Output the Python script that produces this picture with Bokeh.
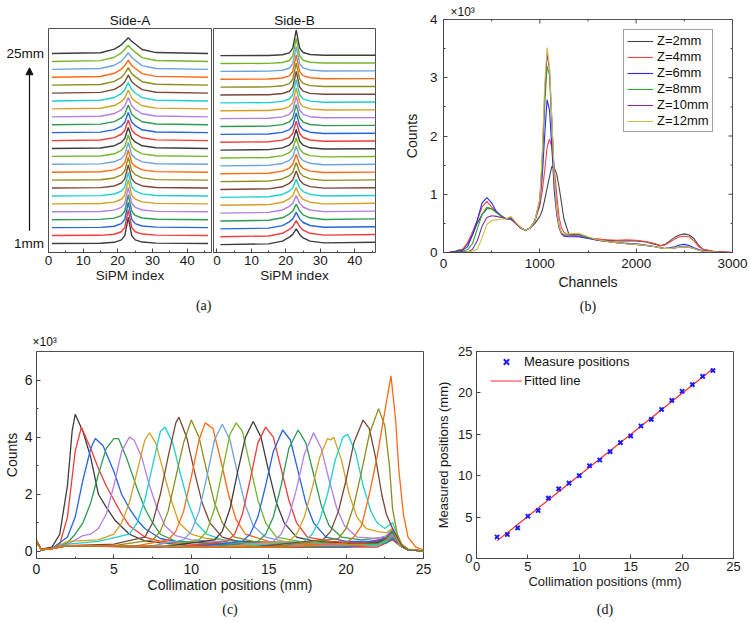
import numpy as np
from bokeh.plotting import figure
from bokeh.layouts import row, column
from bokeh.models import (Range1d, FixedTicker, Arrow, NormalHead, Title,
                          Legend, LegendItem)
from bokeh.core.properties import value
from bokeh.embed import file_html
from bokeh.resources import INLINE

SANS = "Liberation Sans"
SERIF = "Liberation Serif"

# ---------------- panel (a): light profiles along the SiPM array ----------------
SIPM_INDEX = [1, 15, 19, 21, 22, 23, 24, 25, 27, 31, 46]
SIPM_TICKS = [0, 10, 20, 30, 40]
SIPM_MINOR = [5, 15, 25, 35, 45]
DEPTH_TEXT = ["1mm", "25mm"]
# one row per depth, bottom (1 mm) to top (25 mm); values in units of the stacking step
SIDE_A = [
    [0, .03, .15, .45, 1.00, 3.30, 1.00, .45, .18, .05, 0],
    [0, .03, .17, .48, 1.02, 3.25, 1.02, .48, .19, .05, 0],
    [0, .04, .18, .50, 1.05, 3.19, 1.05, .51, .21, .06, 0],
    [0, .04, .20, .53, 1.07, 3.14, 1.07, .54, .22, .06, 0],
    [0, .04, .22, .56, 1.09, 3.08, 1.09, .57, .23, .06, 0],
    [0, .05, .23, .59, 1.12, 3.03, 1.11, .61, .25, .07, 0],
    [0, .05, .25, .61, 1.14, 2.98, 1.14, .64, .26, .07, 0],
    [0, .05, .27, .64, 1.16, 2.92, 1.16, .67, .27, .07, 0],
    [0, .05, .28, .67, 1.18, 2.87, 1.18, .70, .29, .07, 0],
    [0, .06, .30, .70, 1.21, 2.81, 1.20, .73, .30, .08, 0],
    [0, .06, .32, .72, 1.23, 2.76, 1.23, .76, .31, .08, 0],
    [0, .06, .33, .75, 1.25, 2.71, 1.25, .79, .32, .08, 0],
    [0, .07, .35, .78, 1.28, 2.65, 1.28, .83, .34, .09, 0],
    [0, .07, .37, .80, 1.30, 2.60, 1.30, .86, .35, .09, 0],
    [0, .07, .38, .83, 1.32, 2.54, 1.32, .89, .36, .09, 0],
    [0, .08, .40, .86, 1.34, 2.49, 1.34, .92, .38, .09, 0],
    [0, .08, .42, .88, 1.37, 2.43, 1.37, .95, .39, .10, 0],
    [0, .08, .43, .91, 1.39, 2.38, 1.39, .98, .40, .10, 0],
    [0, .09, .45, .94, 1.41, 2.33, 1.41, 1.01, .42, .10, 0],
    [0, .09, .47, .97, 1.43, 2.27, 1.44, 1.05, .43, .10, 0],
    [0, .09, .48, .99, 1.46, 2.22, 1.46, 1.08, .44, .11, 0],
    [0, .09, .50, 1.02, 1.48, 2.16, 1.48, 1.11, .46, .11, 0],
    [0, .10, .52, 1.05, 1.50, 2.11, 1.50, 1.14, .47, .11, 0],
    [0, .10, .53, 1.07, 1.53, 2.05, 1.53, 1.17, .48, .12, 0],
    [0, .10, .55, 1.10, 1.55, 2.00, 1.55, 1.20, .50, .12, 0],
]
SIDE_B = [
    [0, .10, .45, .95, 1.30, 2.00, 1.30, .85, .45, .22, .30],
    [0, .10, .44, .93, 1.29, 2.05, 1.29, .83, .44, .21, .29],
    [0, .09, .42, .90, 1.27, 2.10, 1.27, .81, .43, .21, .28],
    [0, .09, .41, .88, 1.26, 2.16, 1.26, .79, .41, .20, .27],
    [0, .09, .40, .85, 1.24, 2.21, 1.24, .78, .40, .19, .26],
    [0, .08, .38, .83, 1.23, 2.26, 1.23, .76, .39, .18, .25],
    [0, .08, .37, .80, 1.21, 2.31, 1.21, .74, .38, .18, .24],
    [0, .08, .35, .78, 1.20, 2.36, 1.20, .72, .36, .17, .23],
    [0, .07, .34, .75, 1.18, 2.42, 1.18, .70, .35, .16, .22],
    [0, .07, .33, .73, 1.17, 2.47, 1.17, .68, .34, .16, .21],
    [0, .07, .31, .70, 1.15, 2.52, 1.15, .66, .33, .15, .20],
    [0, .06, .30, .68, 1.14, 2.57, 1.14, .64, .31, .14, .19],
    [0, .06, .29, .65, 1.13, 2.63, 1.13, .63, .30, .14, .18],
    [0, .06, .27, .63, 1.11, 2.68, 1.11, .61, .29, .13, .16],
    [0, .05, .26, .60, 1.10, 2.73, 1.10, .59, .28, .12, .15],
    [0, .05, .24, .58, 1.08, 2.78, 1.08, .57, .26, .11, .14],
    [0, .05, .23, .55, 1.07, 2.83, 1.07, .55, .25, .11, .13],
    [0, .04, .22, .53, 1.05, 2.89, 1.05, .53, .24, .10, .12],
    [0, .04, .20, .50, 1.04, 2.94, 1.04, .51, .23, .09, .11],
    [0, .04, .19, .48, 1.02, 2.99, 1.02, .49, .21, .09, .10],
    [0, .03, .17, .45, 1.01, 3.04, 1.01, .48, .20, .08, .09],
    [0, .03, .16, .43, .99, 3.09, .99, .46, .19, .07, .08],
    [0, .03, .15, .40, .98, 3.15, .98, .44, .18, .06, .07],
    [0, .02, .13, .38, .96, 3.20, .96, .42, .16, .06, .06],
    [0, .02, .12, .35, .95, 3.25, .95, .40, .15, .05, .05],
]
CYCLE = ["#3d3d3d", "#f23b3b", "#2563e0", "#2f9a50", "#b47ee6", "#d3a024",
         "#1fcfcf", "#7b4637", "#8c8c1c", "#ff6a12", "#6fa3dc", "#74b62a"]

# ---------------- panel (b): energy spectra ----------------
CHANNELS = [0, 50, 100, 150, 200, 250, 300, 350, 400, 450,
            500, 550, 600, 650, 700, 750, 800, 850, 900, 950,
            1000, 1025, 1050, 1075, 1100, 1125, 1150, 1175, 1200, 1225,
            1250, 1300, 1400, 1500, 1600, 1700, 1800, 1900, 2000, 2100,
            2200, 2250, 2300, 2350, 2400, 2450, 2500, 2550, 2600, 2650,
            2700, 2800, 2900, 3000]
CH_TICKS = [0, 1000, 2000, 3000]
CH_MINOR = [500, 1500, 2500]
CNT_TICKS = [0, 1, 2, 3, 4]
CNT_MINOR = [0.5, 1.5, 2.5, 3.5]
Z_LABELS = ["Z=2mm", "Z=4mm", "Z=6mm", "Z=8mm", "Z=10mm", "Z=12mm"]
Z_COLORS = ["#444444", "#ff4040", "#2a2aff", "#2ea52e", "#8a2aa0", "#c8c24a"]
SPEC_Z2 = [0, 0, 0.01, 0.04, 0.05, 0.15, 0.3, 0.5, 0.65, 0.75,
           0.75, 0.7, 0.63, 0.58, 0.57, 0.5, 0.43, 0.38, 0.42, 0.5,
           0.62, 0.72, 0.9, 1.1, 1.3, 1.48, 1.45, 1.35, 1.12, 0.85,
           0.58, 0.32, 0.28, 0.25, 0.23, 0.21, 0.2, 0.2, 0.2, 0.18,
           0.14, 0.11, 0.14, 0.2, 0.26, 0.3, 0.32, 0.3, 0.24, 0.12,
           0.05, 0.02, 0.01, 0]
SPEC_Z4 = [0, 0, 0.01, 0.02, 0.06, 0.17, 0.35, 0.55, 0.78, 0.88,
           0.78, 0.7, 0.62, 0.58, 0.58, 0.5, 0.43, 0.38, 0.42, 0.55,
           0.8, 1.05, 1.4, 1.8, 1.95, 1.8, 1.45, 1.0, 0.6, 0.42,
           0.35, 0.3, 0.28, 0.25, 0.23, 0.22, 0.21, 0.22, 0.21, 0.19,
           0.15, 0.12, 0.13, 0.18, 0.23, 0.27, 0.28, 0.27, 0.2, 0.1,
           0.05, 0.02, 0.01, 0]
SPEC_Z6 = [0, 0, 0.01, 0.02, 0.04, 0.1, 0.3, 0.55, 0.85, 0.94,
           0.85, 0.7, 0.62, 0.58, 0.58, 0.5, 0.42, 0.38, 0.42, 0.55,
           0.85, 1.3, 2.0, 2.62, 2.45, 1.8, 1.05, 0.65, 0.42, 0.32,
           0.28, 0.27, 0.27, 0.24, 0.21, 0.19, 0.17, 0.16, 0.15, 0.13,
           0.1, 0.08, 0.07, 0.08, 0.1, 0.13, 0.14, 0.12, 0.08, 0.05,
           0.03, 0.01, 0, 0]
SPEC_Z8 = [0, 0, 0, 0.01, 0.02, 0.05, 0.15, 0.4, 0.65, 0.78,
           0.75, 0.68, 0.62, 0.58, 0.6, 0.5, 0.42, 0.38, 0.42, 0.55,
           0.9, 1.5, 2.5, 3.2, 3.05, 2.2, 1.3, 0.75, 0.45, 0.33,
           0.3, 0.3, 0.3, 0.25, 0.21, 0.19, 0.17, 0.15, 0.14, 0.12,
           0.1, 0.08, 0.07, 0.07, 0.08, 0.1, 0.1, 0.09, 0.07, 0.04,
           0.02, 0.01, 0, 0]
SPEC_Z10 = [0, 0, 0, 0, 0.01, 0.01, 0.05, 0.2, 0.45, 0.6,
            0.63, 0.62, 0.6, 0.58, 0.6, 0.5, 0.42, 0.38, 0.42, 0.55,
            0.9, 1.6, 2.7, 3.42, 3.15, 2.25, 1.3, 0.75, 0.45, 0.33,
            0.3, 0.3, 0.32, 0.26, 0.21, 0.19, 0.17, 0.15, 0.14, 0.12,
            0.1, 0.08, 0.07, 0.07, 0.08, 0.09, 0.1, 0.09, 0.07, 0.04,
            0.02, 0.01, 0, 0]
SPEC_Z12 = [0, 0, 0, 0, 0, 0.01, 0.02, 0.05, 0.25, 0.48,
            0.55, 0.56, 0.57, 0.58, 0.62, 0.52, 0.43, 0.38, 0.42, 0.55,
            0.92, 1.7, 2.85, 3.52, 3.2, 2.3, 1.3, 0.75, 0.45, 0.34,
            0.32, 0.32, 0.33, 0.27, 0.22, 0.19, 0.17, 0.15, 0.14, 0.12,
            0.1, 0.08, 0.07, 0.07, 0.08, 0.09, 0.1, 0.09, 0.07, 0.04,
            0.02, 0.01, 0, 0]
SPECTRA = [SPEC_Z2, SPEC_Z4, SPEC_Z6, SPEC_Z8, SPEC_Z10, SPEC_Z12]

# ---------------- panel (c): counts vs collimation position ----------------
SCAN_X = [
    [0, 0.3, 1, 1.5, 2, 2.3, 2.5, 3, 3.5, 4, 4.5, 5.1, 6, 7, 8, 10, 14, 18, 22, 22.6, 23, 23.5, 24, 25],
    [0, 0.3, 1, 1.5, 2, 2.5, 2.9, 3.5, 4, 4.5, 5, 5.5, 6, 7, 8, 10, 14, 18, 22, 22.6, 23, 23.5, 24, 25],
    [0, 0.3, 1, 2, 2.5, 3, 3.5, 3.8, 4.3, 5, 5.5, 6, 6.5, 7, 8, 9, 12, 16, 20, 22.6, 23, 23.5, 24, 25],
    [0, 0.3, 1, 2, 2.5, 3, 3.5, 4, 4.5, 5, 5.3, 5.8, 6.5, 7, 7.5, 8, 9, 11, 15, 19, 22.6, 23, 23.5, 24, 25],
    [0, 0.3, 1, 2, 3, 3.5, 4, 4.5, 5, 5.5, 6, 6.3, 6.8, 7.3, 7.8, 8.3, 9, 10, 13, 17, 21, 22.6, 23, 23.5, 24, 25],
    [0, 0.3, 1, 2, 4, 5, 5.5, 6, 6.5, 7, 7.3, 7.7, 8.2, 8.7, 9.2, 10, 11, 14, 18, 22, 22.6, 23, 23.5, 24, 25],
    [0, 0.3, 1, 2, 4, 6, 6.5, 7, 7.5, 8, 8.3, 8.8, 9.3, 9.8, 10.3, 11, 12, 15, 19, 22, 22.6, 23, 23.5, 24, 25],
    [0, 0.3, 1, 2, 5, 7, 7.5, 8, 8.5, 9, 9.2, 9.7, 10.2, 10.7, 11.2, 12, 13, 16, 20, 22.6, 23, 23.5, 24, 25],
    [0, 0.3, 1, 2, 5, 7.5, 8, 8.5, 9, 9.5, 10, 10.5, 11, 11.5, 12, 12.8, 14, 17, 21, 22.6, 23, 23.5, 24, 25],
    [0, 0.3, 1, 2, 6, 8.5, 9, 9.5, 10, 10.5, 10.9, 11.4, 11.9, 12.4, 12.9, 13.5, 15, 18, 21, 22.6, 23, 23.5, 24, 25],
    [0, 0.3, 1, 2, 7, 9.5, 10, 10.5, 11, 11.5, 12, 12.5, 13, 13.5, 14, 14.8, 16, 19, 22, 22.6, 23, 23.5, 24, 25],
    [0, 0.3, 1, 2, 8, 10.5, 11, 11.5, 12, 12.5, 12.9, 13.3, 13.8, 14.3, 14.8, 15.5, 17, 20, 22, 22.6, 23, 23.5, 24, 25],
    [0, 0.3, 1, 2, 8, 11.5, 12, 12.5, 13, 13.5, 14, 14.5, 15, 15.5, 16, 16.8, 18, 20, 22, 22.6, 23, 23.5, 24, 25],
    [0, 0.3, 1, 2, 9, 12.3, 12.8, 13.3, 13.8, 14.3, 14.8, 15.3, 15.8, 16.3, 16.8, 17.5, 19, 21, 22.6, 23, 23.5, 24, 25],
    [0, 0.3, 1, 2, 10, 13.3, 13.8, 14.3, 14.8, 15.3, 15.9, 16.4, 16.9, 17.4, 17.9, 18.7, 20, 22, 22.6, 23, 23.5, 24, 25],
    [0, 0.3, 1, 2, 11, 14.3, 14.8, 15.3, 15.8, 16.3, 16.9, 17.4, 17.9, 18.4, 18.9, 19.7, 21, 22.6, 23, 23.5, 24, 25],
    [0, 0.3, 1, 2, 12, 15.3, 15.8, 16.3, 16.8, 17.3, 17.9, 18.4, 18.9, 19.4, 19.9, 20.7, 22, 22.6, 23, 23.5, 24, 25],
    [0, 0.3, 1, 2, 12, 16.3, 16.8, 17.3, 17.8, 18.3, 18.8, 19.0, 19.2, 19.7, 20.2, 20.7, 21.3, 22, 22.6, 23, 23.5, 24, 25],
    [0, 0.3, 1, 2, 13, 17.3, 17.8, 18.3, 18.8, 19.3, 19.8, 20.1, 20.6, 21.1, 21.6, 22, 22.5, 23, 23.3, 23.6, 24, 25],
    [0, 0.3, 1, 2, 14, 18.5, 19, 19.5, 20, 20.5, 21.1, 21.5, 21.9, 22.3, 22.6, 23, 23.3, 23.6, 24, 25],
    [0, 0.3, 1, 2, 15, 19.5, 20, 20.5, 21, 21.5, 22.1, 22.5, 22.8, 23, 23.3, 23.6, 24, 25],
    [0, 0.3, 1, 2, 16, 20, 20.5, 21, 21.5, 22, 22.5, 22.9, 23.2, 23.4, 23.7, 24, 24.5, 25],
]
SCAN_Y = [  # counts in units of 10^3
    [0.4, 0.08, 0.15, 0.6, 2.3, 4.2, 4.8, 4.2, 3.3, 2.0, 1.55, 1.07, 0.6, 0.37, 0.3, 0.2, 0.15, 0.15, 0.2, 0.35, 0.45, 0.2, 0.05, 0.02],
    [0.35, 0.06, 0.1, 0.25, 1.2, 3.5, 4.35, 3.6, 2.9, 2.3, 1.8, 1.3, 0.9, 0.5, 0.35, 0.25, 0.2, 0.15, 0.15, 0.3, 0.4, 0.2, 0.05, 0.02],
    [0.35, 0.05, 0.1, 0.5, 1.2, 2.5, 3.6, 3.95, 3.7, 2.8, 2.0, 1.5, 1.1, 0.8, 0.45, 0.35, 0.25, 0.2, 0.15, 0.3, 0.45, 0.2, 0.05, 0.02],
    [0.35, 0.05, 0.1, 0.3, 0.6, 1.0, 1.7, 2.7, 3.6, 3.95, 3.95, 3.3, 2.2, 1.5, 1.0, 0.6, 0.35, 0.3, 0.2, 0.15, 0.3, 0.5, 0.2, 0.05, 0.02],
    [0.35, 0.05, 0.1, 0.25, 0.55, 0.6, 0.8, 1.3, 2.3, 3.5, 4.0, 3.9, 3.3, 2.3, 1.5, 0.9, 0.55, 0.4, 0.3, 0.2, 0.2, 0.35, 0.55, 0.2, 0.05, 0.02],
    [0.35, 0.05, 0.1, 0.35, 0.4, 0.6, 1.0, 1.7, 2.8, 3.9, 4.15, 3.8, 2.8, 1.8, 1.0, 0.6, 0.45, 0.3, 0.25, 0.25, 0.4, 0.6, 0.2, 0.05, 0.02],
    [0.35, 0.05, 0.1, 0.25, 0.35, 0.6, 1.0, 1.8, 3.0, 4.2, 4.35, 3.8, 2.7, 1.7, 1.0, 0.6, 0.4, 0.3, 0.25, 0.2, 0.35, 0.6, 0.2, 0.05, 0.02],
    [0.35, 0.05, 0.1, 0.2, 0.25, 0.5, 1.0, 2.0, 3.3, 4.5, 4.7, 4.0, 2.8, 1.7, 1.0, 0.5, 0.35, 0.3, 0.25, 0.4, 0.6, 0.2, 0.05, 0.02],
    [0.35, 0.05, 0.1, 0.2, 0.2, 0.4, 0.7, 1.4, 2.6, 3.8, 4.6, 4.0, 2.8, 1.7, 1.0, 0.5, 0.35, 0.25, 0.25, 0.4, 0.65, 0.2, 0.05, 0.02],
    [0.35, 0.05, 0.1, 0.2, 0.15, 0.4, 0.7, 1.4, 2.6, 3.9, 4.5, 4.3, 3.2, 2.0, 1.1, 0.6, 0.35, 0.25, 0.2, 0.4, 0.6, 0.2, 0.05, 0.02],
    [0.35, 0.05, 0.1, 0.2, 0.15, 0.4, 0.7, 1.4, 2.6, 3.9, 4.45, 3.9, 2.7, 1.6, 0.9, 0.5, 0.35, 0.25, 0.25, 0.4, 0.6, 0.2, 0.05, 0.02],
    [0.35, 0.05, 0.1, 0.2, 0.15, 0.4, 0.7, 1.5, 2.8, 4.1, 4.5, 4.2, 3.0, 1.8, 1.0, 0.5, 0.35, 0.25, 0.25, 0.4, 0.65, 0.2, 0.05, 0.02],
    [0.35, 0.05, 0.1, 0.2, 0.15, 0.4, 0.7, 1.5, 2.8, 4.0, 4.55, 4.0, 2.8, 1.7, 1.0, 0.5, 0.35, 0.3, 0.3, 0.45, 0.7, 0.2, 0.05, 0.02],
    [0.35, 0.05, 0.1, 0.2, 0.15, 0.35, 0.6, 1.3, 2.5, 3.8, 4.35, 4.0, 2.9, 1.8, 1.0, 0.5, 0.35, 0.3, 0.45, 0.7, 0.2, 0.05, 0.02],
    [0.35, 0.05, 0.1, 0.2, 0.15, 0.35, 0.6, 1.2, 2.3, 3.5, 4.25, 3.9, 2.8, 1.7, 1.0, 0.5, 0.35, 0.35, 0.5, 0.7, 0.2, 0.05, 0.02],
    [0.35, 0.05, 0.1, 0.2, 0.15, 0.35, 0.6, 1.2, 2.3, 3.6, 4.25, 3.8, 2.7, 1.6, 0.9, 0.5, 0.4, 0.5, 0.75, 0.2, 0.05, 0.02],
    [0.35, 0.05, 0.1, 0.2, 0.15, 0.35, 0.6, 1.2, 2.2, 3.4, 4.15, 3.6, 2.5, 1.5, 0.9, 0.5, 0.45, 0.55, 0.8, 0.2, 0.05, 0.02],
    [0.35, 0.05, 0.1, 0.2, 0.15, 0.35, 0.6, 1.2, 2.2, 3.3, 3.95, 3.9, 4.0, 3.2, 2.0, 1.2, 0.8, 0.7, 0.65, 0.8, 0.2, 0.05, 0.02],
    [0.35, 0.05, 0.1, 0.2, 0.15, 0.35, 0.6, 1.1, 2.0, 3.2, 4.0, 4.1, 3.5, 2.3, 1.4, 1.0, 0.8, 1.0, 0.6, 0.2, 0.05, 0.02],
    [0.35, 0.05, 0.1, 0.2, 0.15, 0.4, 0.7, 1.4, 2.5, 3.8, 4.6, 4.3, 3.3, 2.0, 1.3, 0.8, 0.5, 0.2, 0.05, 0.02],
    [0.35, 0.05, 0.1, 0.2, 0.15, 0.45, 0.8, 1.6, 2.8, 4.1, 5.0, 4.4, 3.0, 1.5, 0.6, 0.25, 0.08, 0.02],
    [0.35, 0.05, 0.1, 0.2, 0.15, 0.3, 0.5, 0.9, 2.0, 3.3, 4.9, 6.15, 4.6, 2.9, 1.3, 0.5, 0.15, 0.05],
]

# ---------------- panel (d): reconstructed vs collimation position ----------------
COLL_POS = [2, 3, 4, 5, 6, 7, 8, 9, 10, 11, 12, 13, 14, 15, 16, 17, 18, 19, 20, 21, 22, 23]
MEAS_POS = [2.6, 2.9, 3.7, 5.1, 5.8, 7.3, 8.4, 9.1, 10.0, 11.2, 11.9, 12.9,
            14.0, 14.8, 16.0, 16.8, 18.0, 19.1, 20.2, 21.0, 22.0, 22.7]

LEVEL_STEP = 1.0
AX_COLOR = "#444444"
TXT = "#111111"


def make_fig(fw, fh, xr, yr, left, right, top, bottom, title=None):
    p = figure(frame_width=fw, frame_height=fh, x_range=xr, y_range=yr,
               min_border_left=left, min_border_right=right,
               min_border_top=top, min_border_bottom=bottom,
               output_backend="svg", toolbar_location=None, title=title)
    p.xgrid.visible = False
    p.ygrid.visible = False
    p.outline_line_color = "#505050"
    p.outline_line_width = 1
    p.background_fill_color = "white"
    p.border_fill_color = "white"
    return p


def style_axis(ax, tick_px="13.5px", label_px="14px", tick_standoff=3, label_standoff=2):
    ax.major_label_text_font = SANS
    ax.major_label_text_font_size = tick_px
    ax.major_label_text_color = "#1a1a1a"
    ax.axis_label_text_font = SANS
    ax.axis_label_text_font_size = label_px
    ax.axis_label_text_font_style = "normal"
    ax.axis_label_text_color = "#1a1a1a"
    ax.axis_line_color = AX_COLOR
    ax.major_tick_line_color = AX_COLOR
    ax.minor_tick_line_color = AX_COLOR
    ax.major_tick_in = 4
    ax.major_tick_out = 0
    ax.minor_tick_in = 2
    ax.minor_tick_out = 0
    ax.major_label_standoff = tick_standoff
    ax.axis_label_standoff = label_standoff


def panel_label(p, text, align="center", offset=0, standoff=10):
    p.add_layout(Title(text=text, align=align, offset=offset, standoff=standoff,
                       text_font=SERIF, text_font_size="14px",
                       text_font_style="normal", text_color=TXT), "below")


def title_style(p, align="center", size="13.5px", standoff=2, offset=0):
    p.title.align = align
    p.title.offset = offset
    p.title.text_font = SANS
    p.title.text_font_size = size
    p.title.text_font_style = "normal"
    p.title.text_color = TXT
    p.title.standoff = standoff


# ---------------- (a) ----------------
yr_a = Range1d(-1.14, 27.16)
yr_b = Range1d(-1.0, 27.45)
levels = [i * LEVEL_STEP for i in range(len(SIDE_A))]

fig0 = make_fig(44, 224, Range1d(0, 44), yr_a, 0, 0, 28, 70)
fig0.axis.visible = False
fig0.outline_line_color = None
fig0.text(x=[43.5, 43.5], y=[levels[0], levels[-1]], text=DEPTH_TEXT,
          text_align="right", text_baseline="middle",
          text_font=value(SANS), text_font_size="13.5px", text_color=TXT)
fig0.add_layout(Arrow(end=NormalHead(size=7, fill_color=TXT, line_color=TXT),
                      x_start=29, y_start=levels[0] + 1.6, x_end=29, y_end=levels[-1] - 1.8,
                      line_color=TXT, line_width=1.2))

figA = make_fig(163, 224, Range1d(0, 47), yr_a, 4, 1, 28, 70, title="Side-A")
figB = make_fig(162, 224, Range1d(-1, 46), yr_b, 1, 3, 28, 70, title="Side-B")
for p, profiles in ((figA, SIDE_A), (figB, SIDE_B)):
    title_style(p)
    p.yaxis.visible = False
    p.xaxis.ticker = FixedTicker(ticks=SIPM_TICKS, minor_ticks=SIPM_MINOR)
    p.xaxis.axis_label = "SiPM index"
    style_axis(p.xaxis[0], tick_px="13.5px", label_px="13.5px", tick_standoff=3, label_standoff=0)
    for i, prof in enumerate(profiles):
        p.line(SIPM_INDEX, [levels[i] + v for v in prof], line_color=CYCLE[i % 12],
               line_width=1.4)
panel_label(figA, "(a)", align="right", standoff=20)

# ---------------- (b) ----------------
xr_b = Range1d(0, 3000)
yr_cnt = Range1d(0, 4)
figb = make_fig(289, 233, xr_b, yr_cnt, 65, 18, 19, 70, title="×10³")
title_style(figb, align="left", size="12px", standoff=1, offset=7)
figb.xaxis.ticker = FixedTicker(ticks=CH_TICKS, minor_ticks=CH_MINOR)
figb.yaxis.ticker = FixedTicker(ticks=CNT_TICKS, minor_ticks=CNT_MINOR)
figb.xaxis.axis_label = "Channels"
figb.yaxis.axis_label = "Counts"
style_axis(figb.xaxis[0], tick_standoff=6, label_standoff=3)
style_axis(figb.yaxis[0], tick_standoff=6, label_standoff=7)
# mirrored inward ticks on the top and right frame edges (half of each dash is clipped)
figb.scatter(CH_TICKS, [yr_cnt.end] * len(CH_TICKS), marker="dash", angle=np.pi / 2,
             size=8, line_color=AX_COLOR, line_width=1)
figb.scatter(CH_MINOR, [yr_cnt.end] * len(CH_MINOR), marker="dash", angle=np.pi / 2,
             size=4, line_color=AX_COLOR, line_width=1)
figb.scatter([xr_b.end] * len(CNT_TICKS), CNT_TICKS, marker="dash",
             size=8, line_color=AX_COLOR, line_width=1)
figb.scatter([xr_b.end] * len(CNT_MINOR), CNT_MINOR, marker="dash",
             size=4, line_color=AX_COLOR, line_width=1)
items = []
for lab, col, ys in zip(Z_LABELS, Z_COLORS, SPECTRA):
    r = figb.line(CHANNELS, ys, line_color=col, line_width=1.1)
    items.append(LegendItem(label=lab, renderers=[r]))
leg_b = Legend(items=items, location=(180, 120), label_text_font=SANS,
               label_text_font_size="13px", label_text_color=TXT,
               glyph_width=26, glyph_height=14, label_height=14, label_standoff=4,
               spacing=1, padding=3, margin=0, border_line_color="#444444",
               border_line_width=1, background_fill_color="white")
figb.add_layout(leg_b)
panel_label(figb, "(b)", standoff=8)

# ---------------- (c) ----------------
figc = make_fig(387, 207, Range1d(0, 25), Range1d(-0.25, 7.0), 35, 10, 28, 65, title="×10³")
title_style(figc, align="left", size="12px", standoff=5, offset=-4)
figc.xaxis.ticker = FixedTicker(ticks=[0, 5, 10, 15, 20, 25], minor_ticks=[2.5, 7.5, 12.5, 17.5, 22.5])
figc.yaxis.ticker = FixedTicker(ticks=[0, 2, 4, 6], minor_ticks=[1, 3, 5])
figc.xaxis.axis_label = "Collimation positions (mm)"
figc.yaxis.axis_label = "Counts"
style_axis(figc.xaxis[0], tick_px="14px", label_px="14px", tick_standoff=5, label_standoff=0)
style_axis(figc.yaxis[0], tick_px="14px", label_px="14px", tick_standoff=4, label_standoff=2)
for i, (xs, ys) in enumerate(zip(SCAN_X, SCAN_Y)):
    figc.line(xs, ys, line_color=CYCLE[i % 12], line_width=1.3)
panel_label(figc, "(c)", offset=4, standoff=8)

# ---------------- (d) ----------------
figd = make_fig(257, 207, Range1d(0, 25), Range1d(0, 25), 43, 18, 29, 64)
figd.xaxis.ticker = FixedTicker(ticks=[0, 5, 10, 15, 20, 25])
figd.yaxis.ticker = FixedTicker(ticks=[0, 5, 10, 15, 20, 25])
figd.xaxis.axis_label = "Collimation positions (mm)"
figd.yaxis.axis_label = "Measured positions (mm)"
style_axis(figd.xaxis[0], tick_px="13px", label_px="13px", tick_standoff=3, label_standoff=0)
style_axis(figd.yaxis[0], tick_px="13px", label_px="13px", tick_standoff=4, label_standoff=4)
slope, intercept = np.polyfit(COLL_POS, MEAS_POS, 1)
fit_x = [min(COLL_POS), max(COLL_POS)]
fit_y = [slope * x + intercept for x in fit_x]
r_fit = figd.line(fit_x, fit_y, line_color="#ff2a2a", line_width=1.2)
r_pts = figd.scatter(COLL_POS, MEAS_POS, marker="x", size=6, line_color="#1a1aff",
                     line_width=2)
leg_d = Legend(items=[LegendItem(label="Measure positions", renderers=[r_pts]),
                      LegendItem(label="Fitted line", renderers=[r_fit])],
               location=(14, 168), label_text_font=SANS, label_text_font_size="13px",
               label_text_color=TXT, glyph_width=32, glyph_height=19,
               label_height=19, label_standoff=2, spacing=0, padding=0, margin=0,
               border_line_color=None, background_fill_alpha=0)
figd.add_layout(leg_d)
panel_label(figd, "(d)", offset=-6, standoff=16)

# figb sits in its own column so that the row does not align its borders with panel (a)
layout = column(row(fig0, figA, figB, column(figb)), row(figc, figd))
open("out.html", "w").write(file_html(layout, INLINE))
